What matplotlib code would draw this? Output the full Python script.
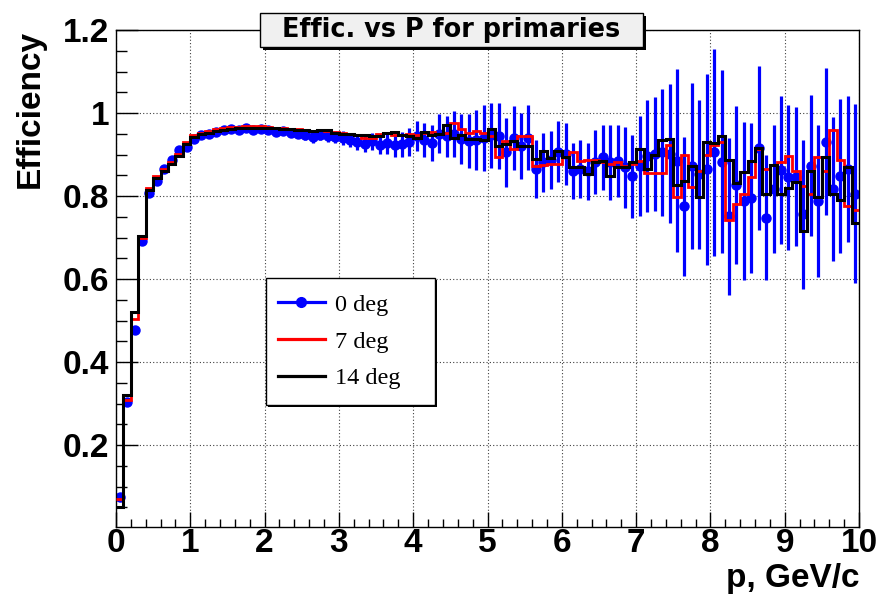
import numpy as np
import matplotlib
matplotlib.use("Agg")
import matplotlib.pyplot as plt
from matplotlib.lines import Line2D
from matplotlib.patches import Rectangle
from matplotlib.ticker import FixedLocator, MultipleLocator, FormatStrFormatter

# 100 bins of 0.1 GeV/c
p_edges = np.linspace(0.0, 10.0, 101)
p_centers = 0.5 * (p_edges[:-1] + p_edges[1:])

# 0 deg : points with errors
eff_0deg = [
    0.075, 0.303, 0.477, 0.693, 0.808, 0.836, 0.866, 0.886, 0.912, 0.918,
    0.937, 0.946, 0.950, 0.955, 0.960, 0.962, 0.960, 0.963, 0.958, 0.962,
    0.958, 0.955, 0.957, 0.952, 0.950, 0.946, 0.942, 0.948, 0.944, 0.942,
    0.940, 0.936, 0.930, 0.926, 0.932, 0.924, 0.927, 0.922, 0.925, 0.930,
    0.945, 0.935, 0.928, 0.950, 0.944, 0.950, 0.938, 0.932, 0.935, 0.940,
    0.946, 0.945, 0.905, 0.941, 0.921, 0.941, 0.865, 0.881, 0.886, 0.907,
    0.901, 0.860, 0.865, 0.860, 0.881, 0.893, 0.881, 0.885, 0.869, 0.848,
    0.873, 0.897, 0.901, 0.906, 0.902, 0.885, 0.775, 0.873, 0.852, 0.865,
    0.905, 0.883, 0.751, 0.827, 0.789, 0.795, 0.916, 0.748, 0.817, 0.863,
    0.845, 0.847, 0.756, 0.873, 0.787, 0.931, 0.817, 0.848, 0.865, 0.806,
]
err_0deg = [
    0.005, 0.006, 0.006, 0.005, 0.004, 0.004, 0.004, 0.004, 0.004, 0.004,
    0.005, 0.005, 0.005, 0.006, 0.006, 0.006, 0.007, 0.007, 0.008, 0.008,
    0.009, 0.009, 0.010, 0.010, 0.011, 0.012, 0.013, 0.013, 0.014, 0.015,
    0.016, 0.017, 0.018, 0.020, 0.021, 0.023, 0.025, 0.027, 0.030, 0.033,
    0.036, 0.040, 0.043, 0.047, 0.050, 0.055, 0.060, 0.065, 0.073, 0.079,
    0.079, 0.079, 0.083, 0.077, 0.079, 0.079, 0.070, 0.070, 0.070, 0.073,
    0.075, 0.067, 0.070, 0.069, 0.077, 0.079, 0.090, 0.087, 0.097, 0.100,
    0.120, 0.135, 0.137, 0.153, 0.167, 0.220, 0.167, 0.200, 0.180, 0.230,
    0.250, 0.220, 0.190, 0.190, 0.190, 0.180, 0.197, 0.150, 0.155, 0.178,
    0.175, 0.167, 0.180, 0.170, 0.183, 0.177, 0.174, 0.185, 0.175, 0.216,
]

# 7 deg : red histogram
eff_7deg = [
    0.070, 0.310, 0.505, 0.700, 0.820, 0.848, 0.866, 0.882, 0.902, 0.930,
    0.946, 0.952, 0.957, 0.961, 0.964, 0.966, 0.967, 0.968, 0.968, 0.968,
    0.967, 0.965, 0.963, 0.962, 0.961, 0.959, 0.957, 0.958, 0.957, 0.955,
    0.953, 0.950, 0.947, 0.939, 0.940, 0.950, 0.951, 0.948, 0.947, 0.950,
    0.947, 0.951, 0.955, 0.950, 0.952, 0.975, 0.962, 0.952, 0.957, 0.953,
    0.945, 0.895, 0.933, 0.913, 0.945, 0.945, 0.873, 0.875, 0.878, 0.878,
    0.893, 0.905, 0.885, 0.886, 0.886, 0.883, 0.877, 0.881, 0.873, 0.877,
    0.885, 0.856, 0.856, 0.855, 0.922, 0.797, 0.899, 0.823, 0.861, 0.898,
    0.923, 0.930, 0.743, 0.781, 0.805, 0.845, 0.914, 0.865, 0.876, 0.881,
    0.896, 0.861, 0.825, 0.805, 0.894, 0.861, 0.960, 0.888, 0.777, 0.767,
]

# 14 deg : black histogram
eff_14deg = [
    0.052, 0.320, 0.520, 0.703, 0.815, 0.843, 0.861, 0.877, 0.897, 0.925,
    0.943, 0.949, 0.953, 0.957, 0.960, 0.962, 0.963, 0.964, 0.965, 0.965,
    0.964, 0.963, 0.962, 0.961, 0.960, 0.958, 0.956, 0.958, 0.959, 0.952,
    0.950, 0.949, 0.947, 0.946, 0.945, 0.944, 0.952, 0.954, 0.948, 0.944,
    0.939, 0.955, 0.946, 0.950, 0.970, 0.940, 0.946, 0.937, 0.937, 0.936,
    0.961, 0.921, 0.925, 0.933, 0.921, 0.921, 0.889, 0.909, 0.891, 0.909,
    0.893, 0.869, 0.870, 0.852, 0.881, 0.885, 0.848, 0.870, 0.870, 0.881,
    0.913, 0.865, 0.900, 0.934, 0.938, 0.827, 0.837, 0.873, 0.797, 0.931,
    0.927, 0.944, 0.888, 0.831, 0.857, 0.884, 0.916, 0.805, 0.875, 0.805,
    0.819, 0.833, 0.715, 0.861, 0.797, 0.894, 0.805, 0.790, 0.871, 0.735,
]

legend_labels = ["0 deg", "7 deg", "14 deg"]

W, H = 881, 601
fig = plt.figure(figsize=(W / 100, H / 100), dpi=100)
ax = fig.add_axes([116 / W, 1 - 527 / H, 743 / W, 497 / H])

ax.errorbar(p_centers, eff_0deg, yerr=err_0deg, fmt="o", color="blue",
            ms=6.5, elinewidth=2.3, capsize=0, zorder=2)
ax.stairs(eff_7deg, p_edges, baseline=None, color="red", lw=2.0, zorder=3)
ax.stairs(eff_14deg, p_edges, baseline=None, color="black", lw=2.2, zorder=4)

ax.set_xlim(0, 10)
ax.set_ylim(0.003, 1.2)

ax.xaxis.set_major_locator(MultipleLocator(1))
ax.xaxis.set_minor_locator(MultipleLocator(0.2))
ax.yaxis.set_major_locator(FixedLocator([0.2, 0.4, 0.6, 0.8, 1.0, 1.2]))
ax.yaxis.set_minor_locator(MultipleLocator(0.05))
ax.xaxis.set_major_formatter(FormatStrFormatter("%g"))
ax.yaxis.set_major_formatter(FormatStrFormatter("%g"))

ax.tick_params(axis="both", which="both", direction="in", top=False,
               right=False, color="black", width=1)
ax.tick_params(axis="y", which="major", length=15.8, pad=5)
ax.tick_params(axis="y", which="minor", length=7.9)
ax.tick_params(axis="x", which="major", length=10.8, pad=0.5)
ax.tick_params(axis="x", which="minor", length=5.8)
for lab in ax.get_xticklabels() + ax.get_yticklabels():
    lab.set_fontfamily("Liberation Sans")
    lab.set_fontweight("bold")
    lab.set_fontsize(24)

ax.grid(True, which="major", linestyle=(0, (1, 2)), color="0.25", lw=0.8)
for s in ax.spines.values():
    s.set_linewidth(1)

ax.set_ylabel("Efficiency", loc="top", fontfamily="Liberation Sans",
              fontweight="bold", fontsize=24)
ax.yaxis.set_label_coords(-0.094, 1.0)
ax.set_xlabel("p, GeV/c", loc="right", fontfamily="Liberation Sans",
              fontweight="bold", fontsize=24)
ax.xaxis.set_label_coords(1.0, -0.072)

# title pave with shadow
tx0, tx1, ty0, ty1 = 260, 643, 13, 47
fig.patches.append(Rectangle(((tx0 + 3) / W, 1 - (ty1 + 3) / H),
                             (tx1 - tx0) / W, (ty1 - ty0) / H,
                             transform=fig.transFigure, facecolor="black",
                             edgecolor="none", zorder=5))
fig.patches.append(Rectangle((tx0 / W, 1 - ty1 / H), (tx1 - tx0) / W,
                             (ty1 - ty0) / H, transform=fig.transFigure,
                             facecolor="#f0f0f0", edgecolor="black", lw=1,
                             zorder=6))
fig.text((tx0 + tx1) / 2 / W, 1 - (ty0 + ty1) / 2 / H,
         "Effic. vs P for primaries", ha="center", va="center",
         fontfamily="DejaVu Sans", fontweight="bold", fontsize=18.4,
         zorder=7)

# legend box
lx0, lx1, ly0, ly1 = 266, 435, 278, 405
fig.patches.append(Rectangle(((lx0 + 2) / W, 1 - (ly1 + 2) / H),
                             (lx1 - lx0) / W, (ly1 - ly0) / H,
                             transform=fig.transFigure, facecolor="black",
                             edgecolor="none", zorder=5))
fig.patches.append(Rectangle((lx0 / W, 1 - ly1 / H), (lx1 - lx0) / W,
                             (ly1 - ly0) / H, transform=fig.transFigure,
                             facecolor="white", edgecolor="black", lw=1,
                             zorder=6))
handles = [
    Line2D([], [], color="blue", lw=2.3, marker="o", ms=7),
    Line2D([], [], color="red", lw=2.3),
    Line2D([], [], color="black", lw=2.3),
]
leg = fig.legend(handles, legend_labels, loc="center",
                 bbox_to_anchor=(339 / W, 1 - 341.5 / H), frameon=False,
                 prop={"family": "Liberation Serif", "size": 17.5},
                 handlelength=1.93, handletextpad=0.41, labelspacing=0.6,
                 borderpad=0, borderaxespad=0)
leg.set_zorder(8)

fig.savefig("out.png", dpi=100)
